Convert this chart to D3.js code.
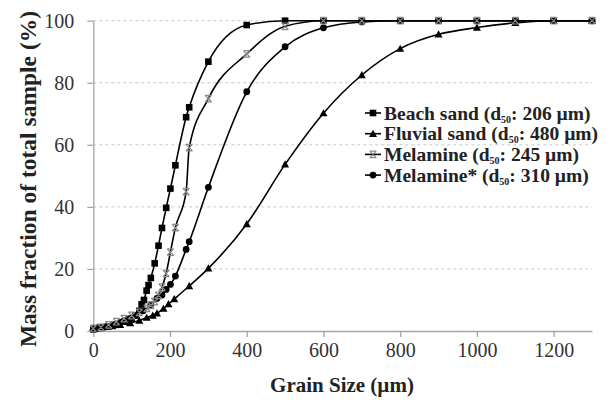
<!DOCTYPE html>
<html>
<head>
<meta charset="utf-8">
<script src="https://cdn.jsdelivr.net/npm/d3@7"></script>
<style>
  body { margin: 0; background: #fff; }
  svg { display: block; }
  text { font-family: "Liberation Serif", "DejaVu Serif", serif; fill: #222; }
</style>
</head>
<body>
<div class="viz"></div>
<script>
// data (grain size in µm, cumulative %)
var beachX = [0, 20, 40, 60, 80, 100, 110, 120, 126, 132, 139, 144, 150, 160, 170, 179, 190, 201, 214, 242, 250, 300, 400, 500, 600, 700, 800, 900, 1000, 1100, 1200, 1300];
var beachY = [0.5, 1, 1.5, 2, 3, 4, 5, 6.5, 8.6, 10, 13, 14.8, 17.1, 21.8, 27.5, 33.2, 39.7, 45.9, 53.4, 68.9, 72.1, 86.8, 98.6, 100, 100, 100, 100, 100, 100, 100, 100, 100];

var fluvialX = [0, 10, 20, 35, 50, 70, 96, 120, 139, 155, 166, 183, 196, 211, 250, 300, 400, 500, 600, 700, 800, 900, 1000, 1100, 1200, 1300];
var fluvialY = [1, 1.1, 1.2, 1.4, 1.6, 2, 2.6, 3.4, 4.3, 5, 5.7, 7.2, 8.7, 10.3, 14.5, 20.2, 34.5, 53.7, 70.2, 82.5, 91, 95.6, 97.8, 99.3, 100, 100];

var melX = [0, 20, 40, 60, 80, 100, 120, 140, 150, 160, 170, 179, 190, 201, 214, 242, 250, 300, 400, 500, 600, 700, 800, 900, 1000, 1100, 1200, 1300];
var melY = [0.8, 1.2, 2, 3, 4, 5, 6, 7.3, 8.3, 9.5, 11.5, 14.1, 18.6, 25.4, 33.3, 44.9, 59.1, 74.9, 89.3, 98.2, 100, 100, 100, 100, 100, 100, 100, 100];

var melStarX = [0, 10, 30, 50, 70, 90, 110, 130, 150, 166, 179, 190, 201, 214, 242, 250, 300, 400, 500, 600, 700, 800, 900, 1000, 1100, 1200, 1300];
var melStarY = [0.5, 0.8, 1.3, 2, 2.8, 3.8, 5, 6.5, 8.5, 10.5, 11.6, 13.4, 15, 17.7, 26.3, 28.8, 46.3, 77.1, 91.6, 97.7, 99.6, 100, 100, 100, 100, 100, 100];

var seriesNames = ["Beach sand", "Fluvial sand", "Melamine", "Melamine*"];
var seriesD50 = ["206", "480", "245", "310"];
var seriesMarks = ["square", "triangle", "star", "circle"];

var xTicks = [0, 200, 400, 600, 800, 1000, 1200];
var yTicks = [0, 20, 40, 60, 80, 100];

// dimensions
var W = 610, H = 403;
var margin = { top: 20.7, right: 18, bottom: 72, left: 93.3 };
var width = W - margin.left - margin.right;
var height = H - margin.top - margin.bottom;

var xScale = d3.scaleLinear().domain([0, 1300]).range([0, width]);
var yScale = d3.scaleLinear().domain([0, 100]).range([height, 0]);

var svg = d3.select(".viz").append("svg")
  .attr("width", W).attr("height", H);

var g = svg.append("g")
  .attr("transform", "translate(" + margin.left + "," + margin.top + ")");

// dashed grid
g.append("g").selectAll("line")
  .data(yTicks.filter(d => d > 0))
  .enter().append("line")
  .attr("x1", 0).attr("x2", width)
  .attr("y1", d => yScale(d)).attr("y2", d => yScale(d))
  .style("stroke", "#c8c8c8")
  .style("stroke-dasharray", "3,3")
  .style("stroke-width", 1);

// axes
var xAxis = d3.axisBottom(xScale).tickValues(xTicks).tickFormat(d3.format("d"))
  .tickSize(6).tickSizeOuter(0).tickPadding(6);
var yAxis = d3.axisLeft(yScale).tickValues(yTicks).tickFormat(d3.format("d"))
  .tickSize(6).tickSizeOuter(0).tickPadding(13);

var gX = g.append("g")
  .attr("transform", "translate(0," + height + ")")
  .call(xAxis);
var gY = g.append("g").call(yAxis);

[gX, gY].forEach(function(ax) {
  ax.select(".domain").style("stroke", "#a6a6a6").style("stroke-width", 1.3);
  ax.selectAll(".tick line").style("stroke", "#a6a6a6").style("stroke-width", 1.3);
  ax.selectAll(".tick text")
    .style("font-family", "'Liberation Serif', serif")
    .style("font-size", "20px")
    .style("fill", "#333");
});

// build series
var allX = [beachX, fluvialX, melX, melStarX];
var allY = [beachY, fluvialY, melY, melStarY];
var series = seriesNames.map(function(n, i) {
  return { name: n, mark: seriesMarks[i], pts: allX[i].map((x, j) => ({ x: x, y: allY[i][j] })) };
});

var line = d3.line()
  .x(d => xScale(d.x))
  .y(d => yScale(d.y))
  .curve(d3.curveMonotoneX);

function drawMark(sel, type, x, y) {
  if (type === "square") {
    sel.append("rect").attr("x", x - 3.3).attr("y", y - 3.3).attr("width", 6.6).attr("height", 6.6)
      .style("fill", "#000");
  } else if (type === "triangle") {
    var s = 4;
    sel.append("path").attr("d", "M" + x + "," + (y - s) + "L" + (x + s) + "," + (y + s * 0.8) + "L" + (x - s) + "," + (y + s * 0.8) + "Z")
      .style("fill", "#000");
  } else if (type === "circle") {
    sel.append("circle").attr("cx", x).attr("cy", y).attr("r", 3.4).style("fill", "#000");
  } else {
    var r = 3.3;
    sel.append("path")
      .attr("d", "M" + (x - r) + "," + (y - r) + "L" + (x + r) + "," + (y + r) +
                 "M" + (x + r) + "," + (y - r) + "L" + (x - r) + "," + (y + r) +
                 "M" + (x - r) + "," + (y - r) + "L" + (x + r) + "," + (y - r) +
                 "M" + (x - r) + "," + (y + r) + "L" + (x + r) + "," + (y + r))
      .style("stroke", "#8a8a8a").style("stroke-width", 1.2).style("fill", "none");
  }
}

var order = [1, 3, 0, 2];
order.forEach(function(i) {
  var s = series[i];
  g.append("path").datum(s.pts)
    .attr("d", line)
    .style("fill", "none")
    .style("stroke", "#000")
    .style("stroke-width", 1.6);
});
order.forEach(function(i) {
  var s = series[i];
  var mg = g.append("g");
  s.pts.forEach(function(p) { drawMark(mg, s.mark, xScale(p.x), yScale(p.y)); });
});

// legend
var legend = svg.append("g").attr("transform", "translate(365,113)");
seriesNames.forEach(function(n, i) {
  var row = legend.append("g").attr("transform", "translate(0," + (i * 20.7) + ")");
  row.append("line").attr("x1", 0).attr("x2", 16).attr("y1", 0).attr("y2", 0)
    .style("stroke", "#000").style("stroke-width", 1.6);
  drawMark(row, seriesMarks[i], 8, 0);
  var t = row.append("text").attr("x", 19).attr("y", 6.5)
    .style("font-size", "19.5px").style("font-weight", "bold");
  t.append("tspan").text(n + " (d");
  t.append("tspan").attr("dy", 3).style("font-size", "10px").text("50");
  t.append("tspan").attr("dy", -3).text(": " + seriesD50[i] + " \u00b5m)");
});

// axis titles
svg.append("text")
  .attr("x", 342).attr("y", 392)
  .attr("text-anchor", "middle")
  .style("font-size", "21px").style("font-weight", "bold")
  .text("Grain Size (\u00b5m)");

svg.append("text")
  .attr("transform", "translate(36," + 179 + ") rotate(-90)")
  .attr("text-anchor", "middle")
  .style("font-size", "23.5px").style("font-weight", "bold")
  .text("Mass fraction of total sample (%)");
</script>
</body>
</html>
